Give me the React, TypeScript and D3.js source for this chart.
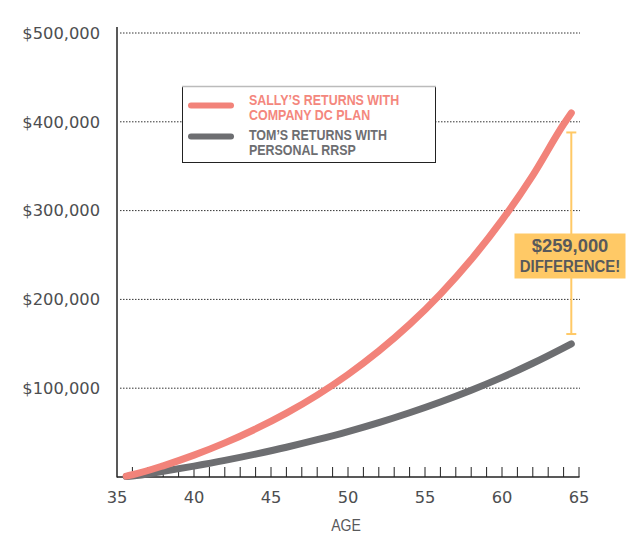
import React from "react";
import * as d3 from "d3";

const ages = [35.6, 36, 38, 40, 42, 44, 46, 48, 50, 52, 54, 56, 58, 60, 62, 64, 64.5];
const sallyValues = [1000, 2500, 12600, 24600, 38400, 54100, 71900, 92200, 115400, 141800, 171800, 206000, 244900, 289200, 339700, 397200, 410000];
const tomValues = [500, 1000, 6400, 12300, 18700, 25800, 33500, 42000, 51200, 61300, 72400, 84500, 97700, 112200, 128100, 145500, 150000];
const yTicks = [100000, 200000, 300000, 400000, 500000];
const xTicks = [35, 40, 45, 50, 55, 60, 65];
const legendSally = ["SALLY\u2019S RETURNS WITH", "COMPANY DC PLAN"];
const legendTom = ["TOM\u2019S RETURNS WITH", "PERSONAL RRSP"];
const bracketAge = [64.5];
const bracketRange = [161000, 388000];
const diffLabel = ["$259,000", "DIFFERENCE!"];

const SALLY = "#F2837A";
const TOM = "#6D6E71";
const GOLD = "#FFC966";
const TEXT = "#4D4E50";
const FONT = "'Liberation Sans', Arial, sans-serif";

function Cond({
  x,
  y,
  s,
  anchor,
  size,
  weight,
  fill,
  children,
}: {
  x: number;
  y: number;
  s: number;
  anchor?: string;
  size: number;
  weight?: string;
  fill: string;
  children: React.ReactNode;
}) {
  return (
    <g transform={`translate(${x},${y}) scale(${s},1)`}>
      <text
        x={0}
        y={0}
        dy="0.36em"
        textAnchor={anchor || "start"}
        fontFamily={FONT}
        fontWeight={weight || "normal"}
        fontSize={size}
        fill={fill}
      >
        {children}
      </text>
    </g>
  );
}

export default function App() {
  const x = d3.scaleLinear().domain([35, 65]).range([117, 579]);
  const y = d3.scaleLinear().domain([0, 500000]).range([477, 33]);
  const line = d3
    .line<number>()
    .x((_, i) => x(ages[i]))
    .y((v) => y(v))
    .curve(d3.curveMonotoneX);
  const minor = d3.range(36, 66, 1);
  const fmt = (v: number) => "$" + d3.format(",")(v);
  const bx = x(bracketAge[0]);
  const byTop = y(bracketRange[1]);
  const byBot = y(bracketRange[0]);

  return (
    <svg
      width={640}
      height={551}
      style={{ position: "absolute", left: 0, top: 0, background: "#fff" }}
    >
      {/* gridlines */}
      {yTicks.map((t) => (
        <line
          key={t}
          x1={120}
          x2={580}
          y1={y(t)}
          y2={y(t)}
          stroke="#333"
          strokeWidth={1}
          strokeDasharray="1.5,1.5"
        />
      ))}
      {/* y labels */}
      {yTicks.map((t) => (
        <text
          key={"l" + t}
          x={100}
          y={y(t)}
          dy="0.36em"
          textAnchor="end"
          fontFamily="'DejaVu Sans', sans-serif"
          fontSize={16.3}
          fill={TEXT}
        >
          {fmt(t)}
        </text>
      ))}
      {/* axes */}
      <line x1={117} x2={117} y1={27} y2={477.5} stroke="#222" strokeWidth={1.5} />
      <line x1={117} x2={579.5} y1={477} y2={477} stroke="#222" strokeWidth={1.5} />
      {minor.map((a) => (
        <line key={"t" + a} x1={x(a)} x2={x(a)} y1={467} y2={477} stroke="#222" strokeWidth={1} />
      ))}
      {xTicks.map((a) => (
        <text
          key={"x" + a}
          x={x(a)}
          y={497}
          dy="0.36em"
          textAnchor="middle"
          fontFamily="'DejaVu Sans', sans-serif"
          fontSize={16.3}
          fill={TEXT}
        >
          {a}
        </text>
      ))}
      <Cond x={346} y={525} s={0.88} anchor="middle" size={16} fill="#58595B">
        AGE
      </Cond>

      {/* legend */}
      <rect x={182.5} y={86.5} width={253} height={76} fill="#fff" stroke="#222" strokeWidth={1} />
      <line x1={182} x2={436} y1={86.5} y2={86.5} stroke="#bbb" strokeWidth={1.5} />
      <line x1={191} x2={231} y1={105.5} y2={105.5} stroke={SALLY} strokeWidth={6} strokeLinecap="round" />
      <line x1={191} x2={231} y1={136.5} y2={136.5} stroke={TOM} strokeWidth={6} strokeLinecap="round" />
      {legendSally.map((s, i) => (
        <Cond key={"ls" + i} x={249} y={100 + i * 15} s={0.83} size={15} weight="bold" fill="#F4877D">
          {s}
        </Cond>
      ))}
      {legendTom.map((s, i) => (
        <Cond key={"lt" + i} x={249} y={135 + i * 15} s={0.83} size={15} weight="bold" fill={TOM}>
          {s}
        </Cond>
      ))}

      {/* bracket */}
      <line x1={bx} x2={bx} y1={byTop} y2={byBot} stroke={GOLD} strokeWidth={2} />
      <line x1={bx - 5} x2={bx + 5} y1={byTop} y2={byTop} stroke={GOLD} strokeWidth={2} />
      <line x1={bx - 5} x2={bx + 5} y1={byBot} y2={byBot} stroke={GOLD} strokeWidth={2} />
      <rect x={514.5} y={233.5} width={111} height={45} fill={GOLD} />
      <Cond x={570} y={246} s={1.05} anchor="middle" size={17.5} weight="bold" fill="#58595B">
        {diffLabel[0]}
      </Cond>
      <Cond x={570} y={265.5} s={0.88} anchor="middle" size={17} weight="bold" fill="#58595B">
        {diffLabel[1]}
      </Cond>

      {/* lines */}
      <path d={line(tomValues) || ""} fill="none" stroke={TOM} strokeWidth={7} strokeLinecap="round" />
      <path d={line(sallyValues) || ""} fill="none" stroke={SALLY} strokeWidth={7} strokeLinecap="round" />
    </svg>
  );
}
